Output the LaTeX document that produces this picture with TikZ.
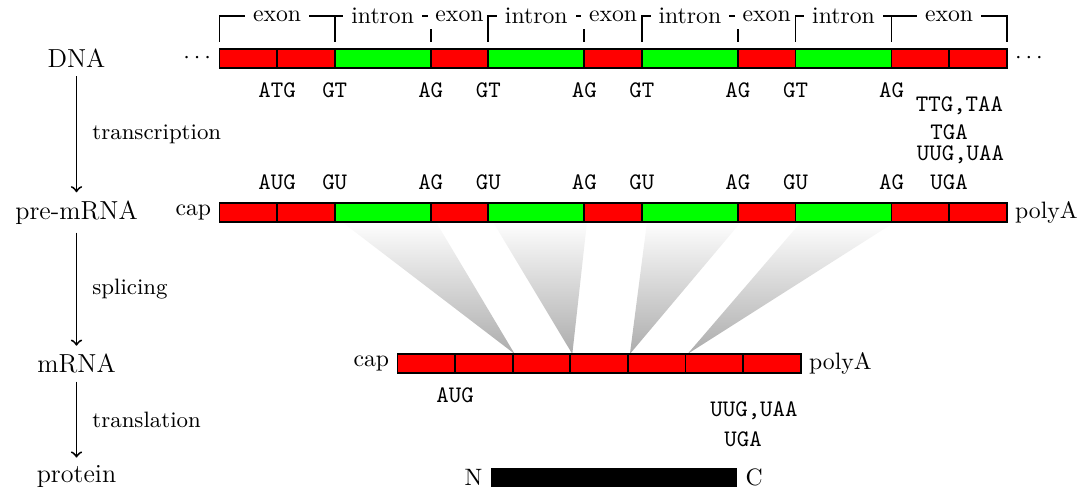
\documentclass[tikz,border=0pt]{standalone}
\usepackage{fontspec}
\begin{document}
\begin{tikzpicture}[x=0.42195pt,y=-0.42195pt,
  seg/.style={draw=black,line width=0.8pt},
  brk/.style={line width=0.8pt},
  brklab/.style={fill=white,font=\fontsize{10}{12}\selectfont},
  stage/.style={font=\fontsize{11}{13}\selectfont},
  proc/.style={font=\fontsize{9.4}{11}\selectfont},
  codon/.style={font=\ttfamily\fontsize{10}{12}\selectfont,anchor=base,inner sep=0pt},
  side/.style={font=\fontsize{10}{12}\selectfont},
  flow/.style={->,line width=0.8pt},
  fan/.style={top color=gray!1,bottom color=gray!65}
]
\useasboundingbox (0,0) rectangle (1087,489);

% stage names and flow
\node[stage] (dna) at (76.5,58.5) {DNA};
\node[stage] (pre) at (76.5,212.5) {pre-mRNA};
\node[stage] (mrna) at (76.5,363.7) {mRNA};
\node[stage] (prot) at (76.5,477) {protein};
\draw[flow] (dna) -- (pre) node[proc,midway,right=3pt] (l1) {transcription};
\draw[flow] (pre) -- (mrna) node[proc,midway,right=3pt] (l2) {splicing};
\draw[flow] (mrna) -- (prot) node[proc,midway,right=3pt] (l3) {translation};

% splicing fans
\shade[fan] (342,222) -- (436,222) -- (514.7,354) -- cycle;
\shade[fan] (493,222) -- (587,222) -- (572.3,354) -- cycle;
\shade[fan] (647,222) -- (741,222) -- (629.9,354) -- cycle;
\shade[fan] (801,222) -- (895,222) -- (687.5,354) -- cycle;

% DNA and pre-mRNA bars
\foreach \a/\b/\c in {219.5/277.1/red,277.1/334.7/red,334.7/430.7/green,430.7/488.3/red,488.3/584.3/green,584.3/641.9/red,641.9/737.9/green,737.9/795.5/red,795.5/891.5/green,891.5/949.1/red,949.1/1006.7/red}
{
  \draw[seg,fill=\c] (\a,49) rectangle (\b,68);
  \draw[seg,fill=\c] (\a,203) rectangle (\b,222);
}
% mRNA bar
\foreach \a in {397.5,455.1,512.7,570.3,627.9,685.5,743.1}
  \draw[seg,fill=red] (\a,354) rectangle ({\a+57.6},373);
% protein bar
\fill[black] (490.7,467.7) rectangle (737.3,486.7);

\coordinate (dnaW) at (219.5,58.5);
\coordinate (dnaE) at (1006.7,58.5);
\coordinate (preW) at (219.5,212.5);
\coordinate (preE) at (1006.7,212.5);
\coordinate (mW) at (397.5,363.5);
\coordinate (mE) at (800.7,363.5);
\coordinate (pW) at (490.7,477.2);
\coordinate (pE) at (737.3,477.2);

\node[anchor=east] (ld) at (dnaW) {$\cdots$};
\node[anchor=west] (rd) at (dnaE) {$\cdots$};
\node[side,anchor=east] (cap1) at (preW) {cap};
\node[side,anchor=west] (pa1) at (preE) {polyA};
\node[side,anchor=east] (cap2) at (mW) {cap};
\node[side,anchor=west] (pa2) at (mE) {polyA};
\node[side,anchor=east] (nt) at (pW) {N};
\node[side,anchor=west] (ct) at (pE) {C};

% exon / intron brackets
\foreach \a/\b/\t [count=\i] in {219.5/334.7/exon,334.7/430.7/intron,430.7/488.3/exon,488.3/584.3/intron,584.3/641.9/exon,641.9/737.9/intron,737.9/795.5/exon,795.5/891.5/intron,891.5/1006.7/exon}
  \draw[brk] (\a,42) -- (\a,16) -- (\b,16) node[brklab,midway] (b\i) {\t} -- (\b,42);

% DNA sites
\foreach \x/\t [count=\i] in {277.1/ATG,334.7/GT,430.7/AG,488.3/GT,584.3/AG,641.9/GT,737.9/AG,795.5/GT,891.5/AG}
  \node[codon] (d\i) at (\x,97.5) {\t};
\node[codon] (dstop1) at (959.5,111.7) {TTG,TAA};
\node[codon] (dstop2) at (949.1,139.5) {TGA};

% pre-mRNA sites
\foreach \x/\t [count=\i] in {277.1/AUG,334.7/GU,430.7/AG,488.3/GU,584.3/AG,641.9/GU,737.9/AG,795.5/GU,891.5/AG}
  \node[codon] (p\i) at (\x,189.5) {\t};
\node[codon] (pstop1) at (960.5,161) {UUG,UAA};
\node[codon] (pstop2) at (949.1,189.5) {UGA};

% mRNA sites
\node[codon] (m1) at (455.1,402.7) {AUG};
\node[codon] (mstop1) at (754,417) {UUG,UAA};
\node[codon] (mstop2) at (743.1,447) {UGA};
\end{tikzpicture}
\end{document}
